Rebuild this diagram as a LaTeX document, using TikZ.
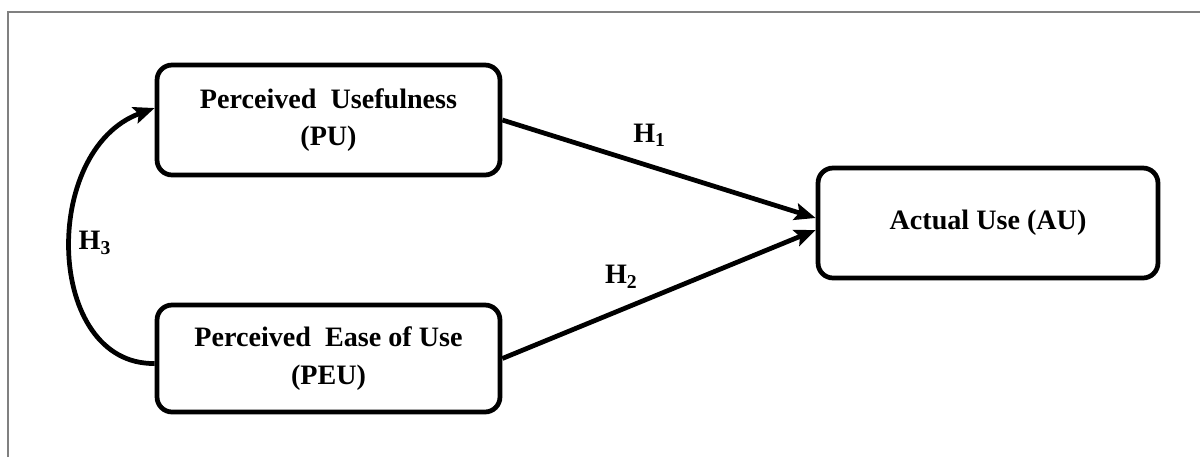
\documentclass[tikz,border=0pt]{standalone}
\usepackage{fontspec}
\setmainfont{Liberation Serif}
\usetikzlibrary{arrows.meta}

\begin{document}
\begin{tikzpicture}[x=0.02cm,y=-0.02cm,
  font=\fontsize{16}{21.5}\selectfont\bfseries,
  box/.style={draw,line width=2.7pt,rounded corners=0.3cm,align=center,
    minimum width=6.86cm,minimum height=2.2cm,inner sep=0pt},
  link/.style={line width=2.7pt,-{Stealth[length=0.42cm,width=0.34cm,inset=0.08cm]}},
  hyp/.style={inner sep=1pt}]
\useasboundingbox (0,0) rectangle (1200,457);
\draw[gray,line width=0.6pt] (8,457)--(8,12)--(1200,12);

\draw (328.5,120) node[box] (pu) {Perceived\ \ Usefulness\\(PU)};
\draw (328.5,358.5) node[box,minimum height=2.14cm] (peu) {Perceived\ \ Ease of Use\\(PEU)};
\draw (988,223) node[box,minimum width=6.8cm] (au) {Actual Use (AU)};

\draw[link] (pu.east) -- ([yshift=0.1cm]au.west)
  node[hyp,pos=0.47,above=0.3cm] {H\textsubscript{1}};
\draw[link] (peu.east) -- ([yshift=-0.14cm]au.west)
  node[hyp,pos=0.38,above=0.35cm] {H\textsubscript{2}};
\draw[link] ([yshift=-0.1cm]peu.west) .. controls (45,365) and (40,150) .. ([yshift=0.24cm]pu.west);
\draw (95,243) node[hyp] (h3) {H\textsubscript{3}};
\end{tikzpicture}
\end{document}
